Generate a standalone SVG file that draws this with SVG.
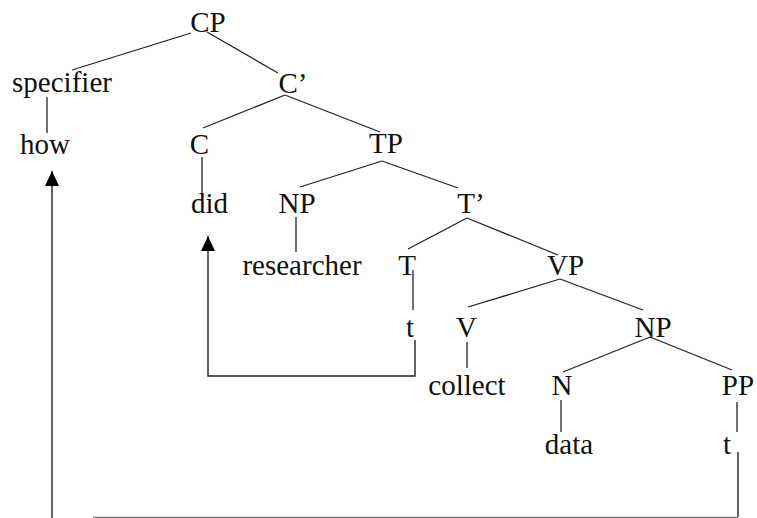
<svg xmlns="http://www.w3.org/2000/svg" width="757" height="518" viewBox="0 0 757 518">
  <style>
    .lbl text { font-family: "Liberation Serif", "Tinos", "DejaVu Serif", "Noto Serif", serif; font-size: 29px; fill: #111; text-anchor: middle; }
    .edge { stroke: #222; stroke-width: 1.3; fill: none; }
    .move { stroke: #222; stroke-width: 1.4; fill: none; }
    .base { stroke: #777; stroke-width: 1.6; fill: none; }
  </style>
  <defs>
    <!-- filled triangle pointing along the path direction -->
    <marker id="arrow" viewBox="0 0 15 14" refX="15" refY="7" markerWidth="15" markerHeight="14" markerUnits="userSpaceOnUse" orient="auto">
      <path d="M15,7 L0,0 L0,14 Z" fill="#000"/>
    </marker>
  </defs>
  <rect width="757" height="518" fill="#fff"/>

  <!-- tree branches and movement paths -->
  <g id="connectors">
    <line class="edge" x1="191" y1="33" x2="72" y2="70"/>
    <line class="edge" x1="207" y1="32" x2="278" y2="73"/>
    <line class="edge" x1="47" y1="97" x2="47" y2="133"/>
    <line class="edge" x1="285" y1="95" x2="203" y2="128"/>
    <line class="edge" x1="285" y1="95" x2="380" y2="132"/>
    <line class="edge" x1="202" y1="157" x2="202" y2="196"/>
    <line class="edge" x1="382" y1="161" x2="300" y2="187"/>
    <line class="edge" x1="382" y1="161" x2="458" y2="188"/>
    <line class="edge" x1="296" y1="217" x2="296" y2="252"/>
    <line class="edge" x1="467" y1="218" x2="408" y2="249"/>
    <line class="edge" x1="467" y1="218" x2="558" y2="255"/>
    <line class="edge" x1="413" y1="270" x2="413" y2="310"/>
    <line class="edge" x1="560" y1="279" x2="468" y2="307"/>
    <line class="edge" x1="560" y1="279" x2="643" y2="310"/>
    <line class="edge" x1="467" y1="342" x2="467" y2="368"/>
    <line class="edge" x1="650" y1="337" x2="563" y2="372"/>
    <line class="edge" x1="650" y1="337" x2="732" y2="370"/>
    <line class="edge" x1="561" y1="400" x2="561" y2="432"/>
    <line class="edge" x1="737" y1="402" x2="737" y2="432"/>
    <!-- T-to-C movement -->
    <path class="move" d="M415,340 V376 H208 V236" marker-end="url(#arrow)"/>
    <!-- adjunct movement to specifier -->
    <path class="move" d="M738,452 V517"/>
    <path class="base" d="M738,517.5 H93"/>
    <path class="move" d="M52,518 V171" marker-end="url(#arrow)"/>
  </g>

  <g class="lbl">
    <g id="n-cp"><text x="208" y="32">CP</text></g>
    <g id="n-spec"><text x="62" y="92">specifier</text></g>
    <g id="n-cbar"><text x="293" y="93">C’</text></g>
    <g id="n-how"><text x="45" y="154">how</text></g>
    <g id="n-c"><text x="199.5" y="154">C</text></g>
    <g id="n-tp"><text x="386" y="153">TP</text></g>
    <g id="n-did"><text x="209.5" y="213">did</text></g>
    <g id="n-np1"><text x="297" y="213">NP</text></g>
    <g id="n-tbar"><text x="471" y="213">T’</text></g>
    <g id="n-researcher"><text x="302" y="275">researcher</text></g>
    <g id="n-t"><text x="407" y="275">T</text></g>
    <g id="n-vp"><text x="565.5" y="275">VP</text></g>
    <g id="n-trace1"><text x="410" y="337">t</text></g>
    <g id="n-v"><text x="466.5" y="337">V</text></g>
    <g id="n-np2"><text x="653" y="337">NP</text></g>
    <g id="n-collect"><text x="467" y="395">collect</text></g>
    <g id="n-n"><text x="562" y="395">N</text></g>
    <g id="n-pp"><text x="738" y="395">PP</text></g>
    <g id="n-data"><text x="569" y="454">data</text></g>
    <g id="n-trace2"><text x="727" y="454">t</text></g>
  </g>
</svg>
